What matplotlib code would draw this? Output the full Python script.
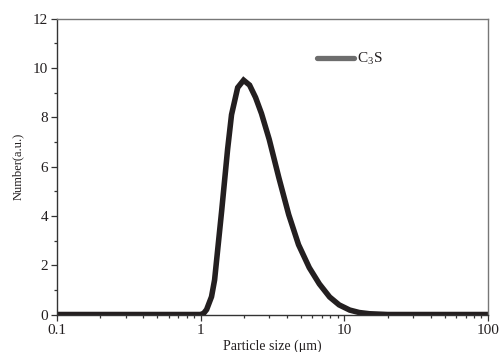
import matplotlib
matplotlib.use("Agg")
import matplotlib.pyplot as plt
from matplotlib.ticker import LogLocator, NullFormatter, MultipleLocator, FixedLocator, FixedFormatter

# Number distribution of C3S particle sizes
size_um = [0.1, 0.2, 0.5, 0.9, 1.0, 1.05, 1.1, 1.19, 1.25, 1.40, 1.54, 1.64,
           1.81, 1.99, 2.19, 2.41, 2.65, 3.0, 3.5, 4.1, 4.8, 5.7, 6.7, 7.9,
           9.2, 10.9, 12.7, 15.0, 20.0, 50.0, 100.0]
number_au = [0.0, 0.0, 0.0, 0.0, 0.0, 0.05, 0.2, 0.72, 1.4, 4.2, 6.7, 8.1,
             9.2, 9.5, 9.3, 8.8, 8.15, 7.1, 5.55, 4.05, 2.83, 1.9, 1.24, 0.71,
             0.39, 0.18, 0.08, 0.03, 0.0, 0.0, 0.0]
series_label = "C$_3$S"

x_ticks = [0.1, 1, 10, 100]
x_tick_labels = ["0.1", "1", "10", "100"]

plt.rcParams["font.family"] = ["Liberation Serif", "DejaVu Serif"]
plt.rcParams["mathtext.fontset"] = "custom"
plt.rcParams["mathtext.rm"] = "Liberation Serif"

fig = plt.figure(figsize=(5.0, 3.52), dpi=100)
ax = fig.add_axes([0.114, 0.1065, 0.862, 0.8409])

ax.plot(size_um, number_au, color="#231f20", lw=4.0, solid_joinstyle="miter",
        solid_capstyle="butt")

ax.set_xscale("log")
ax.set_xlim(0.1, 100)
ax.set_ylim(0, 12)

ax.xaxis.set_major_locator(FixedLocator(x_ticks))
ax.xaxis.set_major_formatter(FixedFormatter(x_tick_labels))
ax.xaxis.set_minor_locator(LogLocator(base=10, subs=range(2, 10)))
ax.xaxis.set_minor_formatter(NullFormatter())
ax.yaxis.set_major_locator(MultipleLocator(2))
ax.yaxis.set_minor_locator(MultipleLocator(1))

ax.tick_params(which="both", direction="out", top=False, right=False,
               colors="#333333", labelcolor="#231f20", labelsize=11, width=0.9)
ax.tick_params(which="major", length=4.5, pad=2)
ax.tick_params(which="minor", length=2.5)

for side in ("left", "bottom"):
    ax.spines[side].set_color("#333333")
    ax.spines[side].set_linewidth(1.0)
for side in ("top", "right"):
    ax.spines[side].set_color("#777777")
    ax.spines[side].set_linewidth(1.0)

ax.set_xlabel("Particle size (\u03bcm)", fontsize=10, labelpad=2, color="#231f20")
ax.set_ylabel("Number(a.u.)", fontsize=9, labelpad=6, color="#231f20")

# Legend entry drawn as a gray bar with text beside it
ax.plot([6.5, 11.6], [10.38, 10.38], color="#6d6d6d",
        lw=3.8, solid_capstyle="round")
ax.text(12.3, 10.38, series_label, fontsize=11, va="center", ha="left",
        color="#231f20")

fig.savefig("out.png", dpi=100)
